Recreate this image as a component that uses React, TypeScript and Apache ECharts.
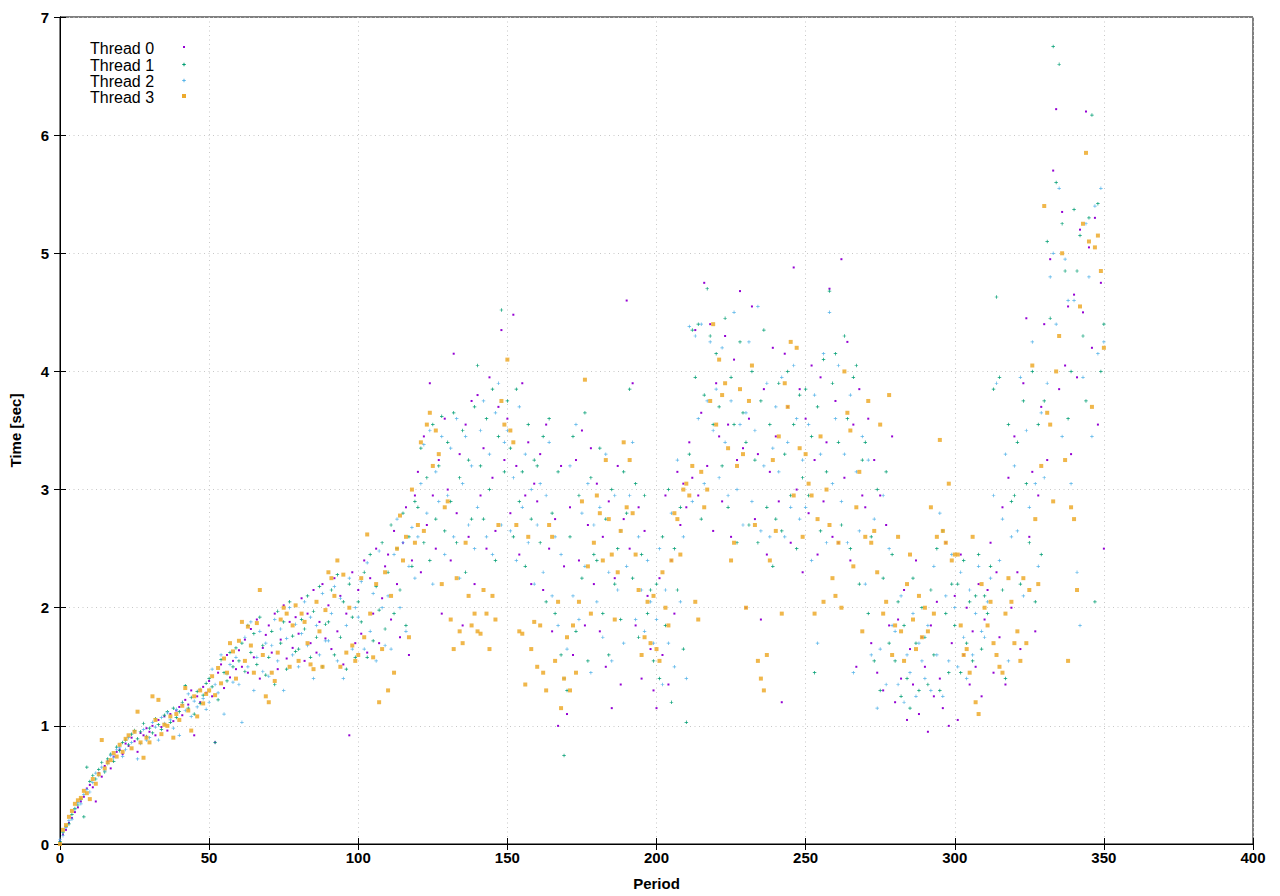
import React, { useEffect, useRef } from "react";
import * as echarts from "echarts";

const seriesNames = ["Thread 0", "Thread 1", "Thread 2", "Thread 3"];
const seriesColors = ["#9400d3", "#009e73", "#56b4e9", "#edaa2c"];

// Time [sec] per period (index = period)
const thread0 = [
  0.03,0.08,0.12,0.18,0.22,0.27,0.31,0.36,0.40,0.47,
  0.50,0.48,0.36,0.60,0.57,0.66,0.70,0.64,0.74,0.78,
  0.80,0.76,0.85,0.83,0.90,0.87,0.78,0.94,0.92,0.98,
  0.95,1.00,0.92,1.05,0.99,1.08,0.96,1.10,1.04,1.13,
  1.16,1.09,1.22,1.18,1.30,0.92,1.25,1.20,1.33,1.28,
  1.38,1.25,0.86,1.45,1.52,1.32,1.60,1.41,1.55,1.48,
  1.64,1.50,1.73,1.45,1.82,1.58,1.90,1.40,1.66,1.77,
  1.85,1.62,1.95,1.48,1.73,2.02,1.57,1.88,1.66,1.92,
  1.78,2.08,1.55,1.95,1.70,2.15,1.62,1.88,2.20,1.74,
  2.02,1.65,2.25,1.80,2.10,1.52,1.95,0.92,2.30,1.70,
  2.15,1.78,2.40,1.62,2.25,1.95,2.50,1.70,2.08,2.35,
  2.45,1.90,2.65,2.20,1.75,2.55,2.85,1.60,2.40,2.95,
  3.15,2.30,3.45,2.70,3.90,2.95,2.50,3.25,1.95,3.60,
  3.00,2.40,4.15,2.80,3.30,1.85,3.55,2.60,3.75,2.20,
  3.80,2.95,3.35,2.50,3.95,3.10,2.65,3.70,4.35,3.25,
  3.60,2.80,4.48,3.20,2.45,3.90,2.95,3.40,2.20,3.05,
  2.90,3.30,2.15,3.55,2.50,1.80,2.75,1.00,3.20,2.35,
  1.10,2.85,1.60,3.25,2.40,3.50,1.85,2.70,3.35,2.20,
  3.05,1.80,2.60,1.50,2.90,1.15,2.25,3.20,1.35,2.75,
  4.60,2.50,3.90,1.85,2.85,1.40,2.65,2.10,1.65,1.30,
  1.15,2.25,1.60,2.95,1.35,2.40,1.95,3.15,2.70,3.05,
  2.85,3.40,3.10,4.35,2.95,3.65,4.75,3.20,4.40,2.65,
  3.90,3.45,2.90,4.30,3.55,2.60,4.10,3.25,4.68,3.35,
  2.00,3.60,4.55,2.75,3.30,1.90,3.85,2.45,3.15,4.20,
  3.45,2.90,1.20,4.15,3.70,2.55,4.88,3.00,3.85,2.30,
  3.60,2.80,4.05,3.25,2.45,3.95,2.90,3.40,4.70,2.60,
  3.75,2.55,4.95,3.10,4.25,2.40,3.55,1.50,3.85,2.95,
  2.85,3.60,1.70,3.25,1.45,2.95,1.30,2.70,1.85,3.45,
  1.20,1.90,1.40,2.15,1.05,1.65,1.35,2.40,1.10,1.75,
  1.50,0.95,1.85,1.25,2.05,1.40,1.15,2.55,1.00,1.70,
  2.10,1.05,2.45,1.60,2.00,1.35,1.80,1.50,2.20,1.25,
  1.90,2.15,2.55,1.45,2.30,1.75,2.85,1.35,3.10,2.00,
  3.45,2.30,1.65,3.90,4.45,2.60,3.15,1.80,2.95,3.70,
  4.40,3.25,4.95,5.70,6.22,3.85,5.35,4.05,4.55,3.30,
  4.65,3.95,5.20,4.50,6.20,5.05,4.20,5.30,3.55,4.75,2.50,
];

const thread1 = [
  0.02,0.10,0.15,0.17,0.25,0.30,0.33,0.38,0.23,0.65,
  0.53,0.58,0.55,0.63,0.69,0.61,0.72,0.76,0.70,0.82,
  0.79,0.86,0.88,0.84,0.93,0.96,0.89,0.95,1.02,0.91,
  0.98,0.94,1.06,1.01,0.97,1.09,1.12,1.03,1.15,1.07,
  1.12,1.20,1.34,1.15,1.24,1.10,1.29,1.19,1.26,1.36,
  1.40,1.33,0.86,1.22,1.56,1.45,1.38,1.62,1.50,1.66,
  1.55,1.70,1.46,1.85,1.62,1.78,1.52,1.92,1.68,1.43,
  1.58,1.80,1.35,1.97,1.70,1.88,1.48,2.05,1.76,1.63,
  1.65,1.90,1.82,2.10,1.58,1.97,1.75,2.18,1.50,1.86,
  1.88,2.15,1.60,2.28,1.75,2.05,1.48,2.20,1.92,1.58,
  2.05,1.88,2.30,1.58,2.45,1.72,2.18,1.98,2.55,1.82,
  2.30,2.70,1.95,2.50,2.15,2.80,1.85,2.60,2.35,2.90,
  2.85,3.35,2.55,3.10,2.40,3.55,2.75,3.20,3.62,2.65,
  3.40,2.90,3.65,2.55,3.10,3.50,2.30,3.25,2.75,3.70,
  4.05,3.20,2.75,3.60,3.00,3.85,2.40,3.45,4.52,3.15,
  3.75,3.35,2.60,3.85,2.90,3.15,2.35,3.55,2.75,3.25,
  3.20,2.55,3.45,2.05,3.60,2.80,1.95,3.15,1.60,0.75,
  1.30,2.60,3.45,1.80,2.95,2.25,3.65,1.55,3.10,2.45,
  2.40,3.35,1.95,2.75,1.60,3.00,2.20,2.50,1.90,3.15,
  2.80,3.85,2.25,3.05,1.75,2.45,2.95,1.95,2.15,1.55,
  2.20,1.40,2.60,1.85,3.00,1.20,2.50,2.15,2.85,1.65,
  1.03,3.30,4.35,3.95,4.40,2.75,3.80,4.70,4.30,3.55,
  4.15,3.70,3.20,4.45,2.85,3.95,3.55,2.55,4.25,3.65,
  3.40,2.70,4.00,3.25,2.55,3.75,4.35,2.85,3.55,2.35,
  2.75,3.90,2.65,3.30,4.00,2.95,3.55,2.50,3.80,3.10,
  3.85,2.95,3.45,1.45,3.70,2.65,4.10,3.15,4.68,3.90,
  4.15,3.40,2.70,4.30,3.60,2.50,3.95,4.05,2.20,3.25,
  3.40,1.95,2.60,1.55,3.00,1.30,2.25,3.15,1.70,2.45,
  1.55,2.05,1.25,1.85,1.40,1.15,2.25,1.70,1.30,2.00,
  1.75,1.35,2.15,1.60,2.50,1.30,2.65,1.95,1.45,2.20,
  1.85,2.20,1.45,2.40,1.70,2.05,1.55,2.10,2.45,1.65,
  2.10,1.95,2.35,3.85,4.63,3.95,2.15,1.40,3.55,2.90,
  2.95,3.40,2.20,3.75,3.05,2.55,4.00,2.05,3.55,2.45,
  3.75,5.10,4.45,6.75,5.60,6.60,5.25,4.85,3.60,4.00,
  5.37,4.85,5.15,4.30,3.75,5.30,6.17,2.05,5.42,4.00,4.40,
];

const thread2 = [
  0.04,0.07,0.14,0.20,0.21,0.29,0.35,0.34,0.42,0.46,
  0.44,0.52,0.60,0.58,0.65,0.62,0.68,0.75,0.73,0.80,
  0.82,0.74,0.80,0.90,0.86,0.95,0.72,0.85,0.97,0.88,
  0.90,1.03,0.99,0.88,1.07,1.02,1.11,1.05,0.98,1.14,
  0.92,1.18,1.13,1.27,1.08,1.21,1.16,1.31,1.23,1.14,
  1.20,1.48,1.35,1.28,1.60,1.10,1.44,1.52,1.37,1.58,
  1.35,1.03,1.75,1.50,1.88,1.30,1.58,1.80,1.46,1.70,
  1.42,1.68,1.90,1.55,1.82,1.30,1.74,2.00,1.60,1.86,
  1.50,1.78,2.05,1.68,1.92,1.40,1.85,1.60,2.12,1.72,
  1.72,1.95,2.18,1.55,2.08,1.40,1.85,2.25,1.65,2.00,
  1.92,2.22,1.65,2.38,1.80,2.12,1.55,2.48,2.00,1.68,
  2.10,1.65,2.45,2.75,2.00,2.55,1.80,2.35,2.68,2.25,
  2.60,3.05,3.38,2.80,3.50,2.20,3.15,2.90,3.45,2.45,
  2.95,3.35,2.60,3.60,2.25,3.05,3.45,2.70,3.20,2.50,
  2.85,3.50,3.75,2.60,3.30,2.45,3.65,3.90,2.70,3.40,
  3.50,2.65,3.10,2.40,3.70,2.85,3.30,2.55,3.00,2.20,
  2.70,3.05,2.30,2.95,3.40,2.10,2.60,1.85,2.45,1.40,
  1.65,3.20,2.10,3.55,1.90,2.80,2.35,3.05,1.45,2.70,
  2.05,2.85,1.75,3.30,2.30,1.55,2.95,2.15,2.65,1.70,
  2.35,2.95,3.40,1.90,2.60,2.15,1.80,2.40,2.05,1.70,
  1.90,2.50,1.35,2.15,1.70,2.80,1.50,3.25,2.05,2.60,
  1.40,4.38,2.90,4.30,3.60,4.40,3.05,3.75,4.25,3.50,
  3.85,3.10,4.20,3.40,2.95,3.75,4.50,3.00,3.55,2.70,
  3.65,4.25,2.90,3.50,4.55,2.65,3.20,3.90,2.60,3.35,
  3.70,3.15,3.95,2.60,3.40,2.85,4.05,3.60,2.75,3.25,
  2.85,3.55,2.40,3.80,1.70,3.30,4.15,2.55,4.50,3.05,
  3.60,4.05,2.90,3.30,2.55,3.80,1.45,3.15,2.65,3.45,
  2.20,3.25,1.60,2.75,1.15,1.65,2.95,1.35,2.50,1.85,
  1.80,1.35,2.10,1.20,1.60,1.45,1.95,1.25,1.70,1.55,
  1.40,1.85,1.30,2.35,1.60,2.80,1.25,2.10,1.55,2.45,
  2.00,1.50,2.30,1.75,1.40,2.15,1.60,1.95,2.35,1.80,
  1.75,2.05,2.25,2.95,3.90,2.40,2.75,3.30,1.55,2.60,
  3.20,2.65,3.95,2.10,3.50,2.85,4.25,3.05,2.35,3.65,
  3.10,3.90,4.80,5.00,4.40,5.55,3.45,4.95,4.60,3.05,
  4.60,2.30,1.85,3.95,5.25,4.80,3.45,5.40,4.15,5.55,4.25,
];

const thread3 = [
  0.00,0.12,0.16,0.23,0.28,0.34,0.37,0.39,0.45,0.43,
  0.38,0.55,0.51,0.59,0.88,0.64,0.69,0.71,0.77,0.74,
  0.84,0.78,0.89,0.92,0.81,0.95,1.12,0.86,0.73,0.90,
  0.86,1.25,1.05,1.22,0.93,1.01,1.00,1.08,0.90,1.10,
  1.05,1.17,1.32,1.13,0.96,1.25,1.08,1.30,1.19,1.27,
  1.30,1.42,1.26,1.49,1.36,1.57,1.45,1.70,1.63,1.40,
  1.72,1.88,1.55,1.84,1.68,1.45,1.87,2.15,1.60,1.25,
  1.20,1.45,1.38,1.62,1.90,2.00,1.95,1.50,1.85,2.02,
  1.55,1.95,1.88,1.70,1.52,1.48,2.05,1.80,1.50,1.98,
  2.30,2.25,2.10,2.40,1.50,2.28,1.62,2.00,1.68,1.55,
  1.60,2.25,1.75,2.62,1.95,1.58,2.20,1.20,1.65,2.30,
  1.30,2.10,1.45,2.50,2.78,2.40,2.60,1.75,3.00,2.55,
  2.70,3.40,2.65,3.55,3.65,3.20,3.50,3.30,2.20,2.85,
  2.90,1.90,1.65,2.25,1.80,1.70,2.55,2.10,1.85,1.95,
  1.80,1.78,2.15,1.95,1.65,2.10,1.90,2.70,3.75,3.55,
  4.10,3.50,3.40,2.70,1.80,1.78,1.35,2.60,1.65,1.88,
  1.50,1.85,1.45,1.30,2.70,2.60,1.55,2.05,1.15,1.40,
  1.75,1.30,1.85,1.45,2.05,2.90,3.93,2.35,1.95,2.55,
  2.95,2.80,2.40,3.25,2.75,2.45,1.90,2.30,2.65,3.40,
  2.85,3.25,2.80,2.45,2.15,1.60,1.75,2.05,1.70,2.10,
  1.65,1.55,2.30,2.00,1.85,2.40,2.80,2.75,2.45,3.00,
  3.05,2.95,3.20,2.05,1.90,3.15,2.85,3.00,3.75,4.40,
  3.55,4.10,3.80,3.90,3.35,2.40,2.55,3.20,3.85,3.30,
  2.00,3.75,4.05,2.70,1.55,1.40,1.30,1.60,2.40,3.25,
  2.65,3.45,1.95,3.90,3.70,4.25,2.95,4.20,3.35,2.60,
  3.30,3.05,2.95,1.95,2.75,3.45,2.05,3.00,2.70,2.25,
  2.10,2.55,2.00,4.00,3.65,3.50,2.35,2.85,3.15,1.80,
  2.60,3.75,2.55,2.65,2.30,3.55,1.95,2.05,3.80,1.60,
  1.85,2.60,1.80,1.55,2.20,2.45,1.90,1.65,2.10,1.75,
  2.00,1.80,2.85,1.95,2.60,3.42,2.65,2.55,3.05,2.40,
  2.45,2.45,1.85,1.60,1.65,1.45,2.60,1.20,1.10,2.20,
  2.00,1.85,2.05,1.70,1.60,1.50,1.45,1.95,2.25,2.05,
  1.70,1.80,1.55,2.25,1.70,2.15,4.05,2.75,2.20,3.20,
  5.40,3.65,3.55,2.90,4.00,4.30,5.00,3.25,1.55,2.85,
  2.75,2.15,4.55,5.25,5.85,5.10,3.70,5.05,5.15,4.85,4.20,
];

const threads = [thread0, thread1, thread2, thread3];

const xMin = 0, xMax = 400, xStep = 50;
const yMin = 0, yMax = 7, yStep = 1;

const PLUS = "path://M2,0H3V2H5V3H3V5H2V3H0V2H2Z";
const symbols = ["rect", PLUS, PLUS, "rect"];
const symbolSizes = [2, 3.5, 3.5, 4];

const FONT = '"Liberation Sans", Arial, Helvetica, sans-serif';

export default function App() {
  const ref = useRef<HTMLDivElement>(null);
  useEffect(() => {
    document.body.style.margin = "0";
    const chart = echarts.init(ref.current!, null, { renderer: "svg" });

    const axisLabel = { fontFamily: FONT, fontSize: 15, fontWeight: "bold" as const, color: "#000" };
    const splitLine = { show: true, lineStyle: { color: "#c8c8c8", type: [1, 3.5], width: 1 } };
    const tick = { show: true, inside: true, length: 6, lineStyle: { color: "#000" } };

    const legendY = [48, 65, 81, 97];
    const legendGraphics: any[] = [];
    seriesNames.forEach((name, i) => {
      legendGraphics.push({
        type: "text",
        x: 90,
        y: legendY[i],
        style: {
          text: name,
          font: `16px ${FONT}`,
          fill: "#000",
          textAlign: "left",
          textVerticalAlign: "middle",
        },
      });
      const s = symbolSizes[i];
      if (i === 1 || i === 2) {
        legendGraphics.push({
          type: "rect",
          shape: { x: 184 - s / 2, y: legendY[i] - 1, width: s, height: 1 },
          style: { fill: seriesColors[i] },
        });
        legendGraphics.push({
          type: "rect",
          shape: { x: 184 - 0.5, y: legendY[i] - 0.5 - s / 2, width: 1, height: s },
          style: { fill: seriesColors[i] },
        });
      } else {
        legendGraphics.push({
          type: "rect",
          shape: { x: 184 - s / 2, y: legendY[i] - 1 - s / 2, width: s, height: s },
          style: { fill: seriesColors[i] },
        });
      }
    });

    chart.setOption({
      animation: false,
      backgroundColor: "#fff",
      grid: {
        left: 58,
        right: 27,
        top: 17,
        bottom: 49,
        show: true,
        borderColor: "#000",
        borderWidth: 1,
      },
      xAxis: [
        {
          type: "value",
          min: xMin,
          max: xMax,
          interval: xStep,
          name: "Period",
          nameLocation: "middle",
          nameGap: 32,
          nameTextStyle: { fontFamily: FONT, fontSize: 15, fontWeight: "bold", color: "#000" },
          axisLine: { show: true, lineStyle: { color: "#000" } },
          axisTick: tick,
          axisLabel: { ...axisLabel, margin: 6 },
          splitLine,
        },
        {
          type: "value",
          position: "top",
          min: xMin,
          max: xMax,
          interval: xStep,
          axisLine: { show: true, lineStyle: { color: "#000" } },
          axisTick: tick,
          axisLabel: { show: false },
          splitLine: { show: false },
        },
      ],
      yAxis: [
        {
          type: "value",
          min: yMin,
          max: yMax,
          interval: yStep,
          name: "Time [sec]",
          nameLocation: "middle",
          nameGap: 37,
          nameTextStyle: { fontFamily: FONT, fontSize: 15, fontWeight: "bold", color: "#000" },
          axisLine: { show: true, lineStyle: { color: "#000" } },
          axisTick: tick,
          axisLabel: { ...axisLabel, margin: 11 },
          splitLine,
        },
        {
          type: "value",
          position: "right",
          min: yMin,
          max: yMax,
          interval: yStep,
          axisLine: { show: true, lineStyle: { color: "#000" } },
          axisTick: tick,
          axisLabel: { show: false },
          splitLine: { show: false },
        },
      ],
      series: threads.map((arr, i) => ({
        name: seriesNames[i],
        type: "scatter",
        xAxisIndex: 0,
        yAxisIndex: 0,
        symbol: symbols[i],
        symbolSize: symbolSizes[i],
        itemStyle: { color: seriesColors[i], opacity: i === 3 ? 0.85 : 1 },
        data: arr.map((v, x) => [x, v]),
        emphasis: { disabled: true },
      })),
      graphic: legendGraphics,
    });
    return () => chart.dispose();
  }, []);
  return <div ref={ref} style={{ width: 1280, height: 896 }} />;
}
